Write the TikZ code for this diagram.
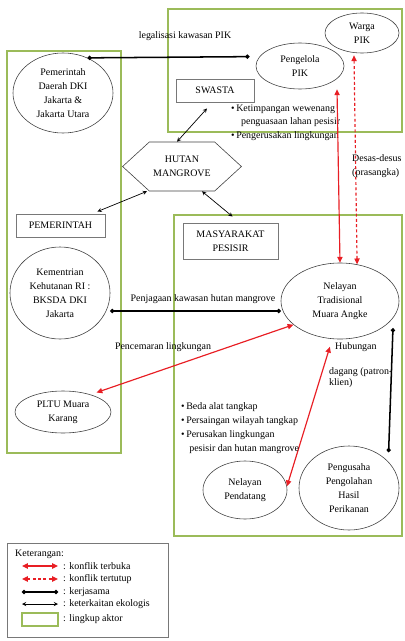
\documentclass[tikz,border=0pt]{standalone}
\usepackage{fontspec}
\setmainfont{Liberation Serif}
\usepackage{tikz}
\usetikzlibrary{arrows.meta, shapes.geometric, shapes.symbols}
\newlength{\unitpx}
\setlength{\unitpx}{0.03cm}
\definecolor{aktorhijau}{RGB}{155,187,89}
\definecolor{konflikmerah}{RGB}{232,30,36}
\definecolor{kotakabu}{RGB}{120,120,120}

\begin{document}
\begin{tikzpicture}[>=stealth, x=0.03cm, y=-0.03cm,
    font=\fontsize{8.5}{12}\selectfont,
    aktor/.style={draw=aktorhijau, line width=2pt},
    sektor/.style={draw=kotakabu, line width=0.8pt, fill=white, align=center, inner sep=0pt},
    pelaku/.style={ellipse, draw=black!75, line width=0.5pt, align=center, inner sep=0pt},
    terbuka/.style={color=konflikmerah, line width=1pt, {Triangle[length=5pt,width=4.5pt]}-{Triangle[length=5pt,width=4.5pt]}},
    tertutup/.style={terbuka, dash pattern=on 2.5pt off 2pt},
    kerja/.style={line width=1.3pt, {Circle[length=3.5pt]}-{Circle[length=3.5pt]}},
    ekologi/.style={line width=0.6pt, <->},
    ket/.style={anchor=west, inner sep=0pt}]
    \useasboundingbox (0,0) rectangle (405,641);
    \draw[aktor] (168,9) rectangle (402,132);
    \draw[aktor] (7,51) rectangle (121,453);
    \draw[aktor] (174,215) rectangle (402,536);

    \node (pemda) at (63,93)[pelaku, minimum width=100\unitpx, minimum height=80\unitpx]{Pemerintah\\Daerah DKI\\Jakarta \&\\Jakarta Utara};
    \node (pengelola) at (300,66)[pelaku, minimum width=88\unitpx, minimum height=46\unitpx]{Pengelola\\PIK};
    \node (warga) at (362,33)[pelaku, minimum width=74\unitpx, minimum height=40\unitpx]{Warga\\PIK};
    \node (swasta) at (215,90.5)[sektor, minimum width=78\unitpx, minimum height=23\unitpx]{SWASTA};
    \node (hutan) at (182,166.5)[signal, signal to=west and east, signal pointer angle=85, draw=black!75, line width=0.5pt, align=center, minimum width=110\unitpx, minimum height=49\unitpx]{HUTAN\\MANGROVE};
    \node (pemerintah) at (60.5,225.5)[sektor, minimum width=89\unitpx, minimum height=23\unitpx]{PEMERINTAH};
    \node (masyarakat) at (230.5,241)[sektor, minimum width=95\unitpx, minimum height=36\unitpx]{MASYARAKAT\\PESISIR};
    \node (kemenhut) at (60,293)[pelaku, minimum width=100\unitpx, minimum height=92\unitpx]{Kementrian\\Kehutanan RI :\\BKSDA DKI\\Jakarta};
    \node (pltu) at (63,412)[pelaku, minimum width=96\unitpx, minimum height=42\unitpx]{PLTU Muara\\Karang};
    \node (tradisional) at (340,301)[pelaku, minimum width=118\unitpx, minimum height=76\unitpx]{Nelayan\\Tradisional\\Muara Angke};
    \node (pendatang) at (245,490)[pelaku, minimum width=84\unitpx, minimum height=58\unitpx]{Nelayan\\Pendatang};
    \node (pengusaha) at (349,488)[pelaku, minimum width=100\unitpx, minimum height=84\unitpx]{Pengusaha\\Pengolahan\\Hasil\\Perikanan};

    \draw[kerja] (pemda.55) -- ([xshift=-10\unitpx]pengelola.167);
    \node (legal) at (185,36){legalisasi kawasan PIK};
    \draw[ekologi] ([xshift=-5\unitpx]hutan.north) -- ([shift={(-8,6)}]swasta.south);
    \draw[ekologi] ([xshift=-35\unitpx]hutan.south) -- ([shift={(-8,-2)}]pemerintah.north east);
    \draw[ekologi] ([xshift=20\unitpx]hutan.south) -- ([shift={(2,-6)}]masyarakat.north);
    \node (isu1) at (227,122.5)[anchor=west, align=left, font=\fontsize{8.5}{11.5}\selectfont]{\textbullet\,Ketimpangan wewenang\\\hspace{8.5pt}penguasaan lahan pesisir\\\textbullet\,Pengerusakan lingkungan};

    \draw[terbuka] (tradisional.north) -- ([shift={(37,0)}]pengelola.south);
    \draw[tertutup] (tradisional.65) -- ([shift={(-8,2)}]warga.south);
    \node (desas) at (352,166)[anchor=west, align=left, inner sep=0pt]{Desas-desus\\(prasangka)};

    \draw[kerja] ([yshift=-18\unitpx]kemenhut.east) -- ([yshift=-10\unitpx]tradisional.west);
    \node (jaga) at (203,299){Penjagaan kawasan hutan mangrove};
    \draw[terbuka] (tradisional.207) -- ([xshift=14\unitpx]pltu.45);
    \node (cemar) at (163,347){Pencemaran lingkungan};
    \draw[terbuka] ([yshift=-8\unitpx]tradisional.255) -- (pendatang.5);
    \draw[kerja] ([yshift=-10\unitpx]tradisional.-18) -- ([shift={(4,-6)}]pengusaha.40);
    \node (hub) at (331,347)[anchor=west]{Hubungan};
    \node (dagang) at (325,377.5)[anchor=west, align=left, font=\fontsize{8.5}{10}\selectfont]{dagang (patron-\\klien)};
    \node (isu2) at (177,428)[anchor=west, align=left, font=\fontsize{8.5}{12}\selectfont]{\textbullet\,Beda alat tangkap\\\textbullet\,Persaingan wilayah tangkap\\\textbullet\,Perusakan lingkungan\\\hspace{7pt}pesisir dan hutan mangrove};

    \draw[draw=kotakabu, line width=0.8pt] (7,543) rectangle (168,637);
    \node (ket) at (15,554)[ket]{Keterangan:};
    \node (lterbuka) at (63,566)[ket]{: konflik terbuka};
    \node (ltertutup) at (63,579)[ket]{: konflik tertutup};
    \node (lkerja) at (63,592)[ket]{: kerjasama};
    \node (lekologi) at (63,604)[ket]{: keterkaitan ekologis};
    \node (laktor) at (63,619)[ket]{: lingkup aktor};
    \draw[terbuka] ([xshift=-41\unitpx]lterbuka.west) -- ([xshift=-5\unitpx]lterbuka.west);
    \draw[tertutup] ([xshift=-41\unitpx]ltertutup.west) -- ([xshift=-5\unitpx]ltertutup.west);
    \draw[kerja] ([xshift=-41\unitpx]lkerja.west) -- ([xshift=-5\unitpx]lkerja.west);
    \draw[ekologi] ([xshift=-41\unitpx]lekologi.west) -- ([xshift=-5\unitpx]lekologi.west);
    \draw[aktor] ([shift={(-41,-6)}]laktor.west) rectangle ([shift={(-5,7)}]laktor.west);
\end{tikzpicture}
\end{document}
